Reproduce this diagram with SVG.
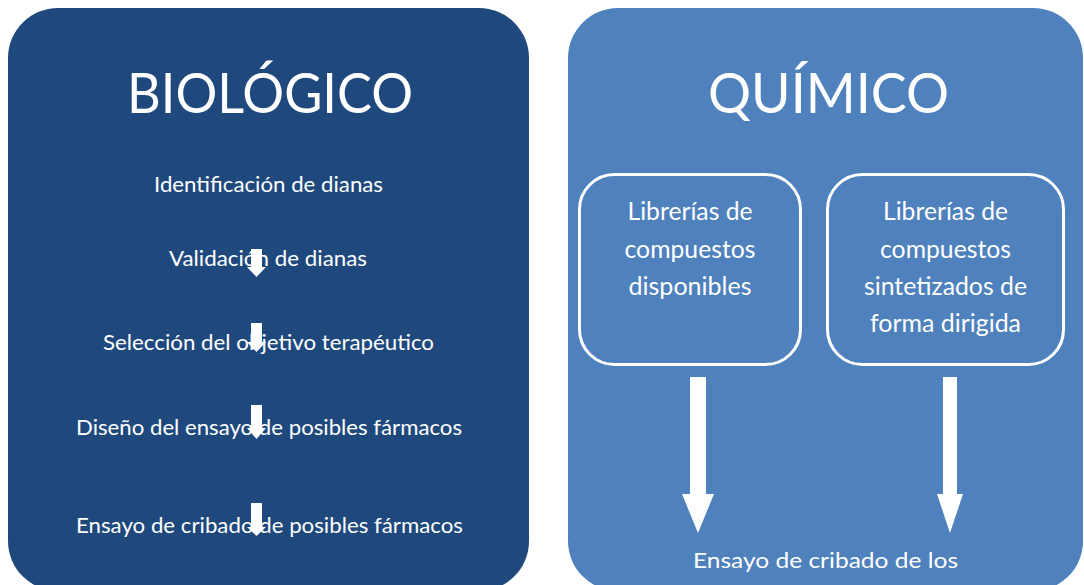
<svg xmlns="http://www.w3.org/2000/svg" width="1084" height="585" viewBox="0 0 1084 585">
<style>
  .t { font-family: Lato, "Liberation Sans", sans-serif; fill: #ffffff; text-anchor: middle; }
  .title { font-size: 56px; }
  .list { font-size: 22px; }
  .box { font-size: 24.5px; }
  .inner { fill: none; stroke: #ffffff; stroke-width: 3; }
  .arrow { fill: #ffffff; stroke: none; }
</style>
<rect x="0" y="0" width="1084" height="585" fill="#ffffff"/>
<g id="panel-biologico">
  <rect x="8" y="8" width="521" height="583" rx="50" ry="50" fill="#1F497D"/>
  <text class="t title" x="270" y="113" textLength="286" lengthAdjust="spacingAndGlyphs">BIOLÓGICO</text>
</g>
<g id="step-identificacion"><text class="t list" x="268.5" y="192" textLength="229" lengthAdjust="spacingAndGlyphs">Identificación de dianas</text></g>
<g id="step-validacion"><text class="t list" x="268" y="266" textLength="198" lengthAdjust="spacingAndGlyphs">Validación de dianas</text></g>
<g id="step-seleccion"><text class="t list" x="268.5" y="350" textLength="331" lengthAdjust="spacingAndGlyphs">Selección del objetivo terapéutico</text></g>
<g id="step-diseno"><text class="t list" x="269" y="435" textLength="386" lengthAdjust="spacingAndGlyphs">Diseño del ensayo de posibles fármacos</text></g>
<g id="step-ensayo"><text class="t list" x="269.5" y="533" textLength="387" lengthAdjust="spacingAndGlyphs">Ensayo de cribado de posibles fármacos</text></g>

<g id="panel-quimico">
  <rect x="568" y="8" width="515" height="583" rx="50" ry="50" fill="#4F81BD"/>
  <text class="t title" x="828.5" y="113" textLength="241" lengthAdjust="spacingAndGlyphs">QUÍMICO</text>
</g>
<g id="box-disponibles">
  <rect class="inner" x="579.5" y="174.5" width="221" height="190" rx="35" ry="35"/>
  <text class="t box" x="690" y="220" textLength="125" lengthAdjust="spacingAndGlyphs">Librerías de</text>
  <text class="t box" x="690" y="258" textLength="131" lengthAdjust="spacingAndGlyphs">compuestos</text>
  <text class="t box" x="690" y="295" textLength="123" lengthAdjust="spacingAndGlyphs">disponibles</text>
</g>
<g id="box-sintetizados">
  <rect class="inner" x="827.5" y="174.5" width="236" height="190" rx="35" ry="35"/>
  <text class="t box" x="945.5" y="220" textLength="125" lengthAdjust="spacingAndGlyphs">Librerías de</text>
  <text class="t box" x="945.5" y="258" textLength="131" lengthAdjust="spacingAndGlyphs">compuestos</text>
  <text class="t box" x="945.5" y="295" textLength="163" lengthAdjust="spacingAndGlyphs">sintetizados de</text>
  <text class="t box" x="945.5" y="332" textLength="151" lengthAdjust="spacingAndGlyphs">forma dirigida</text>
</g>
<g id="cribado-quimico"><text class="t list" x="825.5" y="568" textLength="265" lengthAdjust="spacingAndGlyphs">Ensayo de cribado de los</text></g>

<g id="connectors">
  <polygon class="arrow" points="251,249 262,249 262,267 266,267 256.5,277 247,267 251,267"/>
  <polygon class="arrow" points="251,323 262,323 262,342 266,342 256.5,352 247,342 251,342"/>
  <polygon class="arrow" points="251,405 262,405 262,428 266,428 256.5,439 247,428 251,428"/>
  <polygon class="arrow" points="251,503 262,503 262,527 266,527 256.5,536 247,527 251,527"/>
  <polygon class="arrow" points="690,377 706,377 706,494 714,494 698,533 682,494 690,494"/>
  <polygon class="arrow" points="943,377 957,377 957,494 963,494 950,533 937,494 943,494"/>
</g>
</svg>
